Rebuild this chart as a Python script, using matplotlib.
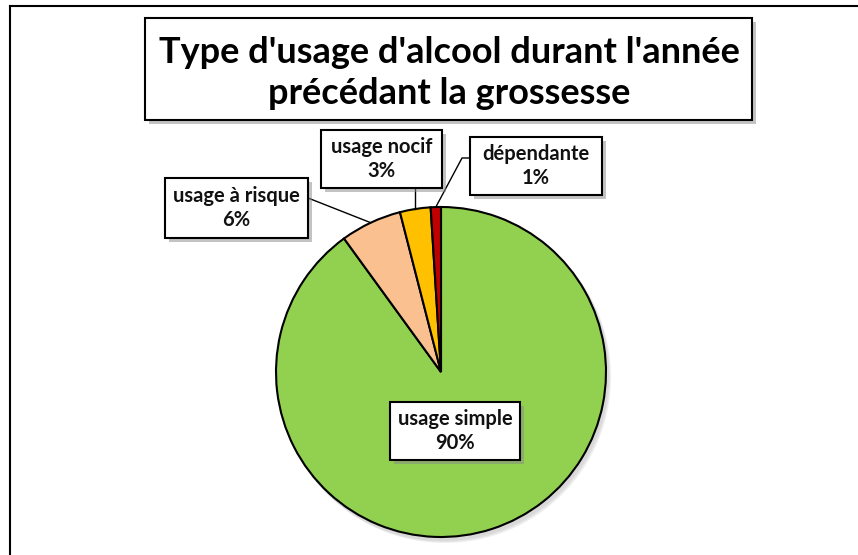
import matplotlib
matplotlib.use('Agg')
import matplotlib.pyplot as plt
import matplotlib.patheffects as pe
from matplotlib.patches import Circle, Rectangle
import numpy as np

# Data
categories = ['usage simple', 'usage à risque', 'usage nocif', 'dépendante']
values = [90, 6, 3, 1]
pct_labels = ['90%', '6%', '3%', '1%']
colors = ['#92D050', '#FAC090', '#FFC000', '#C00000']
title = "Type d'usage d'alcool durant l'année\nprécédant la grossesse"

W, H = 858, 555
fig = plt.figure(figsize=(W / 100, H / 100), dpi=100)
ax = fig.add_axes([0, 0, 1, 1])

def py(y):
    # pixel row (from top) -> data y
    return H - y

cx, cy, r = 441, py(372), 165

# soft shadow under the pie
for k, a in enumerate([0.10, 0.10, 0.12]):
    ax.add_patch(Circle((cx + 2 + k, cy - 3 - k), r + 1, color='grey', alpha=a, lw=0, zorder=1))

wedges, _ = ax.pie(values, colors=colors, startangle=90, counterclock=False,
                   center=(cx, cy), radius=r,
                   wedgeprops=dict(edgecolor='black', linewidth=1.5))
for w in wedges:
    w.set_zorder(2)
ax.set_xlim(0, W)
ax.set_ylim(0, H)
ax.set_aspect('equal')
ax.axis('off')

shadow = [pe.SimplePatchShadow(offset=(3, -3), shadow_rgbFace='#888888', alpha=0.5), pe.Normal()]
label_font = dict(fontfamily='Lato', fontweight='bold', fontsize=14.5, color='#111111')

def label_box(x0, y0, x1, y1, text):
    rect = Rectangle((x0, py(y1)), x1 - x0, y1 - y0, facecolor='white',
                     edgecolor='black', linewidth=1.5, zorder=5)
    rect.set_path_effects(shadow)
    ax.add_patch(rect)
    ax.text((x0 + x1) / 2, py((y0 + y1) / 2), text, ha='center', va='center',
            linespacing=1.3, zorder=6, **label_font)

# mid angles of the wedges (in degrees)
cum = np.cumsum([0] + values)
mids = [90 - 360 * (cum[i] + cum[i + 1]) / 2 / sum(values) for i in range(len(values))]

def edge_point(i):
    a = np.deg2rad(mids[i])
    return cx + r * np.cos(a), cy + r * np.sin(a)

# leader lines
ex, ey = edge_point(1)
ax.plot([308, ex], [py(198), ey], color='black', lw=1, zorder=4)
ex, ey = edge_point(2)
ax.plot([ex, ex], [py(188), ey], color='black', lw=1, zorder=4)
ex, ey = edge_point(3)
ax.plot([470, 462, ex], [py(158), py(158), ey], color='black', lw=1, zorder=4)

label_box(390, 402, 520, 460, categories[0] + '\n' + pct_labels[0])
label_box(165, 178, 308, 238, categories[1] + '\n' + pct_labels[1])
label_box(321, 130, 442, 188, categories[2] + '\n' + pct_labels[2])
label_box(470, 137, 602, 195, categories[3] + '\n' + pct_labels[3])

# title box
trect = Rectangle((145, py(120)), 607, 102, facecolor='white', edgecolor='black',
                  linewidth=1.5, zorder=5)
trect.set_path_effects(shadow)
ax.add_patch(trect)
ax.text(449, py(73), title, ha='center', va='center', fontfamily='Lato',
        fontweight='bold', fontsize=26, linespacing=1.3, zorder=6, color='black')

# outer frame (left and top edges)
ax.plot([10, 10], [0, py(6)], color='black', lw=1.5, zorder=7)
ax.plot([10, W], [py(6), py(6)], color='black', lw=1.5, zorder=7)

fig.savefig('out.png', dpi=100)
